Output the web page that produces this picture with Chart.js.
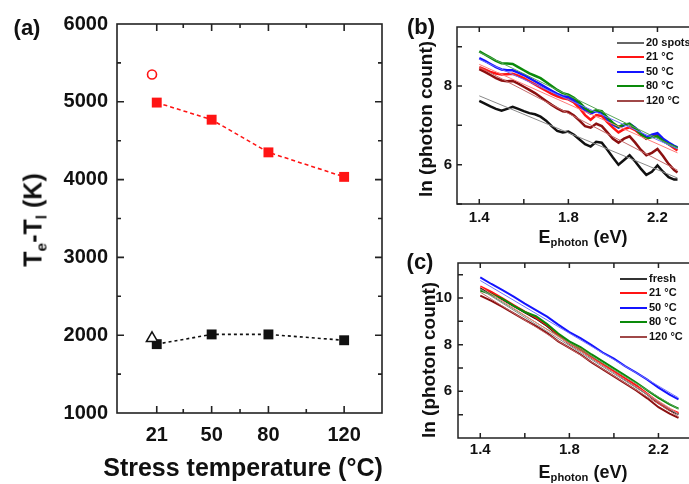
<!DOCTYPE html>
<html>
<head>
<meta charset="utf-8">
<script src="https://cdn.jsdelivr.net/npm/chart.js@4.4.0/dist/chart.umd.min.js"></script>
<style>
  body { margin: 0; width: 689px; height: 484px; overflow: hidden; background: #fff; position: relative;
         font-family: "Liberation Sans", Arial, sans-serif; font-weight: bold; color: #111; }
  canvas { position: absolute; }
  .lbl { position: absolute; transform: translate(-50%, -50%); white-space: nowrap; }
  .rot { position: absolute; transform: translate(-50%, -50%) rotate(-90deg); white-space: nowrap; }
  sub { font-size: 62%; vertical-align: -0.3em; line-height: 0; }
  .leg { position: absolute; font-size: 11px; white-space: nowrap; }
  .leg div { height: 14.4px; line-height: 14.4px; }
  .leg i { display: inline-block; width: 27px; height: 2px; vertical-align: middle; margin-right: 2px; }
</style>
</head>
<body>
<canvas id="chartA" width="400" height="484" style="left:0;top:0"></canvas>
<canvas id="chartB" width="330" height="250" style="left:390px;top:0"></canvas>
<canvas id="chartC" width="330" height="239" style="left:390px;top:245px"></canvas>

<div class="lbl" style="left:27px;top:28px;font-size:22px">(a)</div>
<div class="lbl" style="left:421px;top:27px;font-size:22px">(b)</div>
<div class="lbl" style="left:420px;top:262px;font-size:22px">(c)</div>

<div class="lbl" style="left:243px;top:467px;font-size:25px">Stress temperature (°C)</div>
<div class="rot" style="left:33px;top:220px;font-size:25px">T<sub>e</sub>-T<sub>l</sub> (K)</div>

<div class="lbl" style="left:583px;top:237px;font-size:18px">E<sub>photon</sub> (eV)</div>
<div class="rot" style="left:426px;top:119px;font-size:19px">ln (photon count)</div>
<div class="lbl" style="left:583px;top:472px;font-size:18px">E<sub>photon</sub> (eV)</div>
<div class="rot" style="left:429px;top:360px;font-size:19px">ln (photon count)</div>

<div class="leg" id="legB" style="left:617px;top:35px"></div>
<div class="leg" id="legC" style="left:620px;top:271px"></div>

<script>
// (a) temperature difference vs stress temperature
const tempsA = [21, 50, 80, 120];
const highA = [4990, 4770, 4350, 4035];
const lowA = [1885, 2010, 2010, 1935];
const refTempA = [18.5];
const refHighA = [5350];
const refLowA = [1960];
const tempMinorA = [35, 65, 100];

// (b) spectra, several stress temperatures
const labelsB = ['20 spots', '21 °C', '50 °C', '80 °C', '120 °C'];
const energyB = [1.400, 1.425, 1.450, 1.475, 1.500, 1.525, 1.550, 1.575, 1.600, 1.625, 1.650, 1.675,
                 1.700, 1.725, 1.750, 1.775, 1.800, 1.825, 1.850, 1.875, 1.900, 1.925, 1.950, 1.975,
                 2.000, 2.025, 2.050, 2.075, 2.100, 2.125, 2.150, 2.175, 2.200, 2.225, 2.250, 2.275, 2.290];
const spotsB = [7.62, 7.55, 7.48, 7.42, 7.37, 7.42, 7.47, 7.42, 7.36, 7.31, 7.28, 7.22,
                7.12, 6.98, 6.86, 6.82, 6.84, 6.76, 6.64, 6.52, 6.46, 6.58, 6.56, 6.38,
                6.18, 6.00, 6.12, 6.24, 6.08, 5.90, 5.74, 5.82, 5.98, 5.82, 5.68, 5.62, 5.62];
const t21B = [8.48, 8.42, 8.36, 8.32, 8.29, 8.30, 8.31, 8.26, 8.20, 8.12, 8.04, 7.96,
              7.88, 7.80, 7.74, 7.69, 7.66, 7.58, 7.44, 7.26, 7.14, 7.26, 7.24, 7.08,
              6.94, 6.82, 6.90, 6.95, 6.88, 6.76, 6.66, 6.72, 6.78, 6.64, 6.52, 6.42, 6.36];
const t50B = [8.71, 8.64, 8.56, 8.48, 8.42, 8.40, 8.40, 8.34, 8.28, 8.20, 8.12, 8.04,
              7.96, 7.88, 7.80, 7.74, 7.72, 7.64, 7.52, 7.38, 7.30, 7.36, 7.32, 7.16,
              7.02, 6.94, 7.00, 7.04, 6.94, 6.80, 6.70, 6.76, 6.80, 6.66, 6.56, 6.48, 6.44];
const t80B = [8.88, 8.80, 8.72, 8.64, 8.58, 8.57, 8.56, 8.48, 8.40, 8.32, 8.26, 8.20,
              8.10, 8.00, 7.90, 7.82, 7.78, 7.70, 7.58, 7.44, 7.34, 7.38, 7.36, 7.20,
              7.06, 6.96, 7.02, 7.04, 6.92, 6.78, 6.66, 6.70, 6.72, 6.60, 6.52, 6.46, 6.42];
const t120B = [8.43, 8.36, 8.28, 8.20, 8.14, 8.12, 8.13, 8.06, 7.98, 7.90, 7.82, 7.72,
               7.62, 7.52, 7.43, 7.36, 7.34, 7.25, 7.12, 6.98, 6.94, 7.04, 6.98, 6.82,
               6.66, 6.56, 6.66, 6.72, 6.56, 6.38, 6.24, 6.30, 6.40, 6.22, 6.02, 5.86, 5.80];
const fitE = [1.4, 2.29];
const fitsB = [[7.75, 5.66], [8.55, 6.30], [8.68, 6.40], [8.86, 6.42], [8.48, 5.86]];

// (c) spectra, fresh device and stressed ones
const labelsC = ['fresh', '21 °C', '50 °C', '80 °C', '120 °C'];
const energyC = [1.40, 1.45, 1.50, 1.55, 1.60, 1.65, 1.70, 1.75, 1.80, 1.85,
                 1.90, 1.95, 2.00, 2.05, 2.10, 2.15, 2.20, 2.25, 2.29];
const freshC = [10.42, 10.20, 9.94, 9.66, 9.38, 9.12, 8.80, 8.40, 8.04, 7.76, 7.44, 7.14, 6.84, 6.52, 6.22, 5.88, 5.50, 5.20, 5.02];
const t21C = [10.50, 10.26, 9.98, 9.70, 9.42, 9.16, 8.84, 8.42, 8.06, 7.80, 7.48, 7.16, 6.86, 6.56, 6.26, 5.90, 5.52, 5.24, 5.08];
const t50C = [10.88, 10.60, 10.34, 10.06, 9.76, 9.48, 9.20, 8.86, 8.54, 8.28, 7.98, 7.66, 7.40, 7.08, 6.80, 6.50, 6.16, 5.86, 5.66];
const t80C = [10.32, 10.16, 9.96, 9.66, 9.40, 9.22, 8.88, 8.48, 8.14, 7.90, 7.58, 7.28, 6.98, 6.68, 6.38, 6.04, 5.72, 5.44, 5.26];
const t120C = [10.10, 9.88, 9.62, 9.34, 9.06, 8.80, 8.50, 8.14, 7.86, 7.58, 7.24, 6.94, 6.64, 6.34, 6.04, 5.70, 5.32, 5.04, 4.86];
const fitsC = [[10.38, 5.00], [10.48, 5.04], [10.75, 5.72], [10.40, 5.24], [10.25, 4.92]];

const lineColors = ['#111111', '#ff1414', '#1414ff', '#0a8a0a', '#8b1010'];
const fitColors = ['#8a8a8a', '#ff7a7a', '#7070ff', '#5aa55a', '#c46a6a'];
const legColorsB = ['#666666', '#ff1414', '#1414ff', '#0a8a0a', '#a04848'];
const legColorsC = ['#333333', '#ff1414', '#1414ff', '#0a8a0a', '#a04848'];

const FONT = '"Liberation Sans", Arial, sans-serif';

// box round the plot, with inward ticks on all four sides
const frameTicks = {
  id: 'frameTicks',
  afterDraw(chart, args, o) {
    const { ctx, chartArea: a, scales } = chart;
    ctx.save();
    ctx.strokeStyle = '#222';
    ctx.lineWidth = o.lw;
    ctx.strokeRect(a.left, a.top, a.right - a.left, a.bottom - a.top);
    ctx.beginPath();
    const xt = (vals, len) => vals.forEach(v => {
      const px = scales.x.getPixelForValue(v);
      ctx.moveTo(px, a.bottom); ctx.lineTo(px, a.bottom - len);
      ctx.moveTo(px, a.top); ctx.lineTo(px, a.top + len);
    });
    const yt = (vals, len) => vals.forEach(v => {
      const py = scales.y.getPixelForValue(v);
      ctx.moveTo(a.left, py); ctx.lineTo(a.left + len, py);
      ctx.moveTo(a.right, py); ctx.lineTo(a.right - len, py);
    });
    xt(o.xMajor, o.major); xt(o.xMinor, o.minor);
    yt(o.yMajor, o.major); yt(o.yMinor, o.minor);
    ctx.stroke();
    ctx.restore();
  }
};

function pts(xs, ys) {
  return xs.map((x, i) => ({ x: x, y: ys[i] }));
}

function axis(min, max, tickVals, pad, size, fmt, fit) {
  return {
    type: 'linear', min: min, max: max,
    grid: { display: false, drawTicks: false },
    border: { display: false },
    ticks: { padding: pad, color: '#111', font: { family: FONT, size: size, weight: 'bold' }, callback: fmt },
    afterBuildTicks: s => { s.ticks = tickVals.map(v => ({ value: v })); },
    afterFit: fit
  };
}

// ---- panel (a)
new Chart(document.getElementById('chartA'), {
  type: 'line',
  data: {
    datasets: [
      { data: pts(refTempA, refHighA), showLine: false, pointStyle: 'circle', pointRadius: 4.5,
        pointBorderColor: '#ff1414', pointBackgroundColor: '#fff', pointBorderWidth: 1.6 },
      { data: pts(refTempA, refLowA), showLine: false, pointStyle: 'triangle', pointRadius: 6.5,
        pointBorderColor: '#111', pointBackgroundColor: '#fff', pointBorderWidth: 1.5 },
      { data: pts(tempsA, highA), borderColor: '#ff1414', borderWidth: 1.6, borderDash: [4, 3],
        pointStyle: 'rect', pointRadius: 7, pointBackgroundColor: '#ff1414', pointBorderColor: '#ff1414', pointBorderWidth: 0 },
      { data: pts(tempsA, lowA), borderColor: '#111', borderWidth: 1.6, borderDash: [3, 3],
        pointStyle: 'rect', pointRadius: 7, pointBackgroundColor: '#111', pointBorderColor: '#111', pointBorderWidth: 0 }
    ]
  },
  options: {
    responsive: false, animation: false,
    layout: { padding: { left: 0, top: 24, right: 18, bottom: 0 } },
    plugins: {
      legend: { display: false }, tooltip: { enabled: false },
      frameTicks: { lw: 1.6, major: 7, minor: 4, xMajor: tempsA, xMinor: tempMinorA,
                    yMajor: [2000, 3000, 4000, 5000], yMinor: [1500, 2500, 3500, 4500, 5500] }
    },
    scales: {
      x: axis(0, 140, tempsA, 10, 20, v => String(v), s => { s.height = 71; }),
      y: axis(1000, 6000, [1000, 2000, 3000, 4000, 5000, 6000], 9, 20, v => String(v), s => { s.width = 117; })
    }
  },
  plugins: [frameTicks]
});

// ---- panels (b) and (c): curves with their straight fits on top
function spectra(energy, curves, fits, w) {
  const sets = [];
  fits.forEach((f, i) => sets.push({ data: pts(fitE, f), borderColor: fitColors[i], borderWidth: 1, pointRadius: 0 }));
  [3, 2, 1, 4, 0].forEach(i => sets.push({ data: pts(energy, curves[i]), borderColor: lineColors[i], borderWidth: w, pointRadius: 0 }));
  return sets;
}

const xTicksE = [1.4, 1.6, 1.8, 2.0, 2.2];

new Chart(document.getElementById('chartB'), {
  type: 'line',
  data: { datasets: spectra(energyB, [spotsB, t21B, t50B, t80B, t120B], fitsB, 2.5) },
  options: {
    responsive: false, animation: false,
    layout: { padding: { left: 0, top: 27, right: 18, bottom: 0 } },
    plugins: {
      legend: { display: false }, tooltip: { enabled: false },
      frameTicks: { lw: 1.5, major: 5, minor: 5, xMajor: xTicksE, xMinor: [], yMajor: [6, 8], yMinor: [5, 7, 9] }
    },
    scales: {
      x: axis(1.3, 2.4, [1.4, 1.8, 2.2], 5, 15, v => v.toFixed(1), s => { s.height = 46; }),
      y: axis(5, 9.5, [6, 8], 5, 15, v => String(v), s => { s.width = 67; })
    }
  },
  plugins: [frameTicks]
});

new Chart(document.getElementById('chartC'), {
  type: 'line',
  data: { datasets: spectra(energyC, [freshC, t21C, t50C, t80C, t120C], fitsC, 2) },
  options: {
    responsive: false, animation: false,
    layout: { padding: { left: 0, top: 18, right: 17, bottom: 0 } },
    plugins: {
      legend: { display: false }, tooltip: { enabled: false },
      frameTicks: { lw: 1.5, major: 5, minor: 5, xMajor: xTicksE, xMinor: [], yMajor: [6, 8, 10], yMinor: [5, 7, 9, 11] }
    },
    scales: {
      x: axis(1.3, 2.4, [1.4, 1.8, 2.2], 3, 15, v => v.toFixed(1), s => { s.height = 46; }),
      y: axis(4, 11.5, [6, 8, 10], 6, 15, v => String(v), s => { s.width = 68; })
    }
  },
  plugins: [frameTicks]
});

// legends as text
function legend(id, labels, colors) {
  const box = document.getElementById(id);
  labels.forEach((t, i) => {
    const row = document.createElement('div');
    row.innerHTML = '<i style="background:' + colors[i] + '"></i>' + t;
    box.appendChild(row);
  });
}
legend('legB', labelsB, legColorsB);
legend('legC', labelsC, legColorsC);
</script>
</body>
</html>
